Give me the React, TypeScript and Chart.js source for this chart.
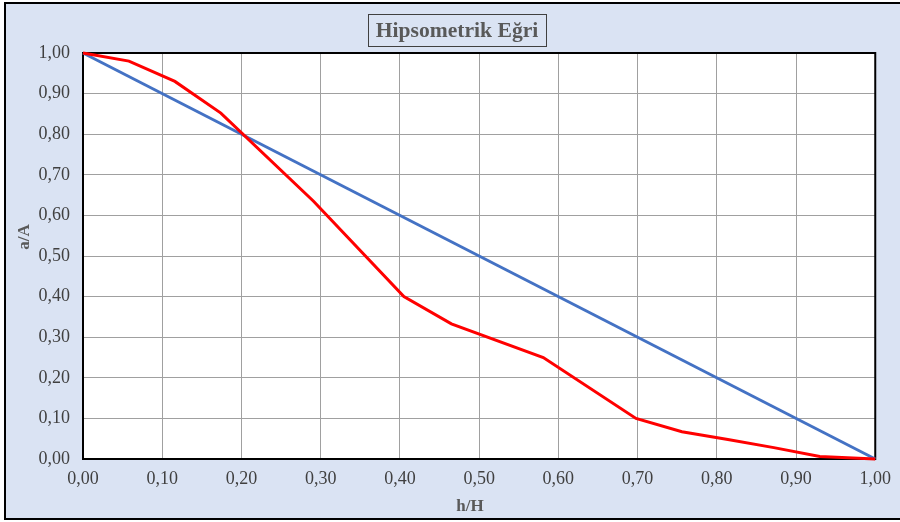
import React, { useEffect, useRef } from "react";
import { Chart, registerables } from "chart.js";

Chart.register(...registerables);

const titleText = "Hipsometrik Eğri";
const xTitle = "h/H";
const yTitle = "a/A";

const curveH = [0, 0.058, 0.116, 0.174, 0.291, 0.405, 0.465, 0.581, 0.698, 0.756, 0.814, 0.872, 0.93, 1.0];
const curveA = [1, 0.98, 0.93, 0.852, 0.635, 0.4, 0.333, 0.25, 0.1, 0.067, 0.048, 0.028, 0.006, 0];

const refH = [0, 1];
const refA = [1, 0];

const SERIF = '"Liberation Serif", "Times New Roman", serif';

const fmt = (v: number) => (Math.round(v * 100) / 100).toFixed(2).replace(".", ",");

const overlay = {
  id: "overlay",
  beforeDraw(chart: any) {
    const { ctx, chartArea } = chart;
    ctx.save();
    ctx.fillStyle = "#ffffff";
    ctx.fillRect(chartArea.left, chartArea.top, chartArea.right - chartArea.left, chartArea.bottom - chartArea.top);
    ctx.restore();
  },
  beforeDatasetsDraw(chart: any) {
    const { ctx, chartArea } = chart;
    ctx.save();
    ctx.strokeStyle = "#000";
    ctx.lineWidth = 2;
    ctx.strokeRect(chartArea.left, chartArea.top, chartArea.right - chartArea.left, chartArea.bottom - chartArea.top);
    ctx.restore();
  },
  afterDraw(chart: any) {
    const { ctx } = chart;
    ctx.save();
    ctx.font = `bold 20px ${SERIF}`;
    ctx.fillStyle = "#595959";
    ctx.textAlign = "center";
    ctx.textBaseline = "middle";
    ctx.save();
    ctx.translate(457, 31);
    ctx.scale(1.08, 1);
    ctx.fillText(titleText, 0, 1);
    ctx.restore();
    ctx.strokeStyle = "#404040";
    ctx.lineWidth = 1;
    ctx.strokeRect(368.5, 14.5, 178, 32);
    ctx.font = `bold 17px ${SERIF}`;
    ctx.fillText(xTitle, 470, 507);
    ctx.translate(25, 237);
    ctx.rotate(-Math.PI / 2);
    ctx.fillText(yTitle, 0, 0);
    ctx.restore();
  },
};

export default function App() {
  const ref = useRef<HTMLCanvasElement>(null);
  useEffect(() => {
    document.body.style.margin = "0";
    const chart = new Chart(ref.current as HTMLCanvasElement, {
      type: "line",
      data: {
        datasets: [
          {
            label: "Hipsometrik",
            data: curveH.map((h, i) => ({ x: h, y: curveA[i] })),
            borderColor: "#ff0000",
            borderWidth: 3,
            pointRadius: 0,
            tension: 0,
            clip: false as any,
          },
          {
            label: "Referans",
            data: refH.map((h, i) => ({ x: h, y: refA[i] })),
            borderColor: "#4472c4",
            borderWidth: 3,
            pointRadius: 0,
            tension: 0,
            clip: false as any,
          },
        ],
      },
      options: {
        animation: false,
        responsive: false,
        layout: { padding: { left: 0, top: 53, right: 24, bottom: 0 } },
        plugins: { legend: { display: false }, tooltip: { enabled: false }, title: { display: false } },
        scales: {
          x: {
            type: "linear",
            min: 0,
            max: 1,
            afterFit: (s: any) => {
              s.height = 63;
            },
            ticks: {
              stepSize: 0.1,
              padding: 9,
              color: "#404040",
              font: { family: SERIF, size: 18 },
              callback: (v: any) => fmt(Number(v)),
              maxRotation: 0,
            },
            grid: { color: "#a0a0a0", lineWidth: 1, drawTicks: false },
            border: { display: false },
          },
          y: {
            type: "linear",
            min: 0,
            max: 1,
            afterFit: (s: any) => {
              s.width = 83;
            },
            ticks: {
              stepSize: 0.1,
              padding: 13,
              color: "#404040",
              font: { family: SERIF, size: 18 },
              callback: (v: any) => fmt(Number(v)),
            },
            grid: { color: "#a0a0a0", lineWidth: 1, drawTicks: false },
            border: { display: false },
          },
        },
      },
      plugins: [overlay],
    });
    return () => chart.destroy();
  }, []);
  return (
    <div style={{ position: "fixed", left: 0, top: 0, width: 900, height: 522, background: "#fff", overflow: "hidden" }}>
      <div
        style={{
          position: "absolute",
          left: 4,
          top: 2,
          width: 920,
          height: 518,
          border: "2px solid #000",
          boxSizing: "border-box",
          background: "#dae3f3",
        }}
      />
      <canvas ref={ref} width={900} height={522} style={{ position: "absolute", left: 0, top: 0, width: 900, height: 522 }} />
    </div>
  );
}
